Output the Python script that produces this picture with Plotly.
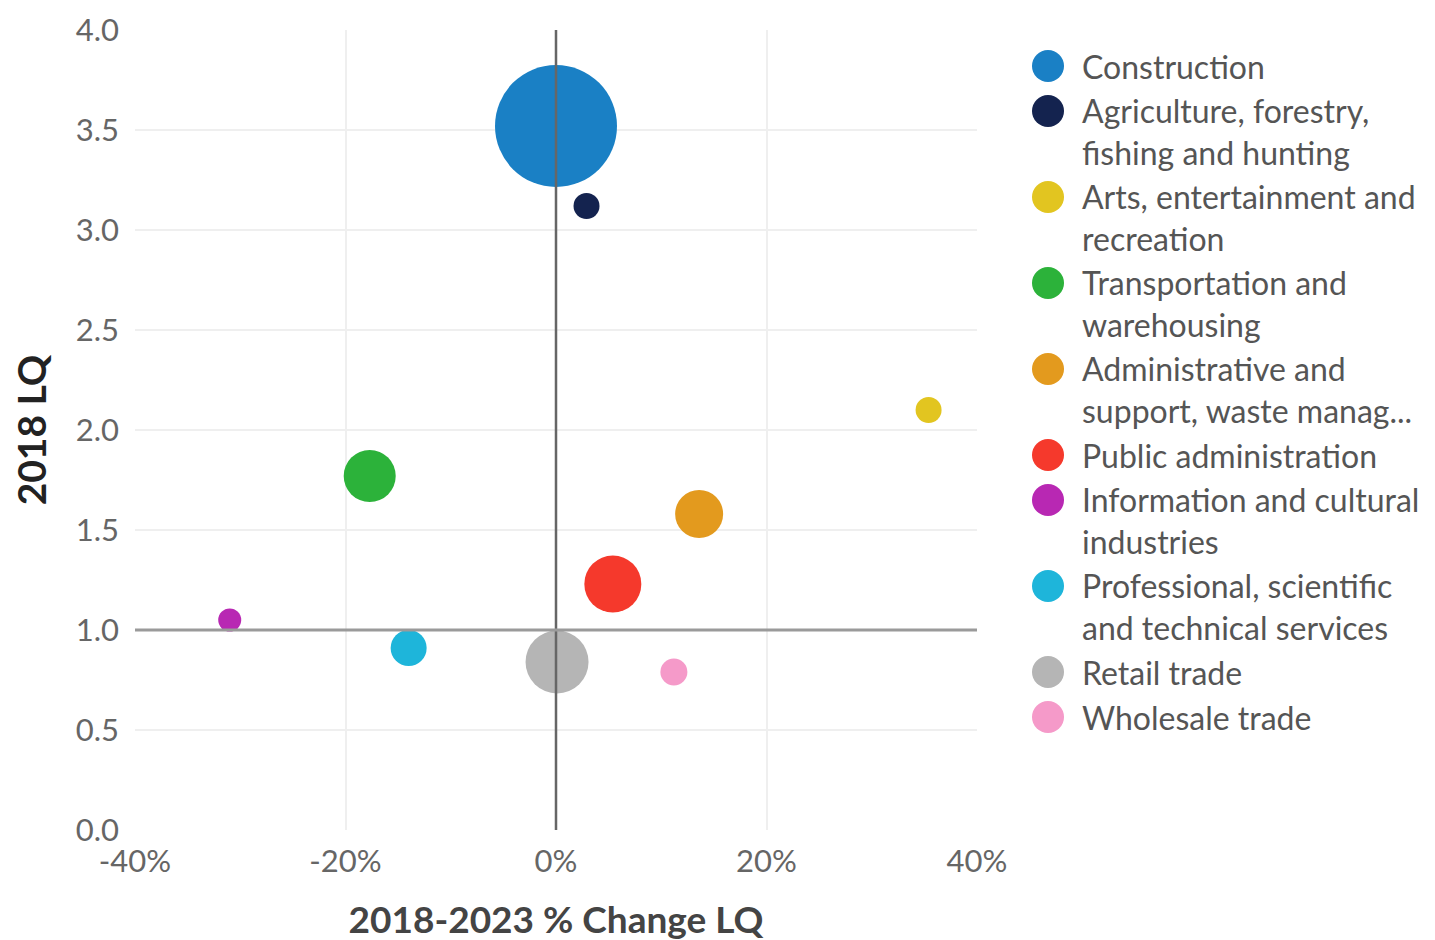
import plotly.graph_objects as go

industries = [
    "Construction",
    "Agriculture, forestry,<br>fishing and hunting",
    "Arts, entertainment and<br>recreation",
    "Transportation and<br>warehousing",
    "Administrative and<br>support, waste manag...",
    "Public administration",
    "Information and cultural<br>industries",
    "Professional, scientific<br>and technical services",
    "Retail trade",
    "Wholesale trade",
]
pct_change_lq = [0.0, 2.9, 35.4, -17.7, 13.6, 5.4, -31.0, -14.0, 0.1, 11.2]
lq_2018 = [3.52, 3.12, 2.10, 1.77, 1.58, 1.23, 1.05, 0.91, 0.84, 0.79]
bubble_size = [122, 26, 26, 52, 48, 57, 23, 36, 63, 27]
colors = ["#1a80c5", "#14234f", "#e2c520", "#2cb23a", "#e39a1e",
          "#f5392c", "#b828b3", "#1eb5da", "#b5b5b5", "#f59ac9"]

x_tickvals = [-40, -20, 0, 20, 40]
x_ticktext = ["-40%", "-20%", "0%", "20%", "40%"]
y_tickvals = [0, 0.5, 1.0, 1.5, 2.0, 2.5, 3.0, 3.5, 4.0]
y_ticktext = ["0.0", "0.5", "1.0", "1.5", "2.0", "2.5", "3.0", "3.5", "4.0"]

# ---- layout geometry (figure pixels) ----
W, H = 1435, 940
ML, MR, MT, MB = 127, 10, 22, 118
PLOT_RIGHT = 969
inner_w = W - ML - MR
main_frac = (PLOT_RIGHT - ML) / inner_w
plot_h = H - MT - MB
legend_w = W - MR - PLOT_RIGHT

fig = go.Figure()
for name, x, y, s, c in zip(industries, pct_change_lq, lq_2018, bubble_size, colors):
    fig.add_trace(go.Scatter(
        x=[x], y=[y], mode="markers", name=name.replace("<br>", " "),
        marker=dict(size=s, color=c, line=dict(width=0), opacity=1),
        showlegend=False,
    ))

# ---- custom legend (big round markers) on a helper axis in pixel units ----
LINE_H = 41
ITEM_GAP = 4
first_y = 36
leg_y = []
yy = first_y
for name in industries:
    leg_y.append(yy)
    yy += ITEM_GAP + LINE_H * (name.count("<br>") + 1)
leg_marker_x = 71
leg_text_x = 103

fig.add_trace(go.Scatter(
    x=[leg_marker_x] * len(industries), y=leg_y, mode="markers",
    marker=dict(size=32, color=colors, line=dict(width=0)),
    xaxis="x2", yaxis="y2", showlegend=False, hoverinfo="skip",
))
for name, y in zip(industries, leg_y):
    fig.add_annotation(
        x=leg_text_x, y=y, xref="x2", yref="y2", text=name,
        xanchor="left", yanchor="middle", align="left", showarrow=False,
        yshift=-(LINE_H * name.count("<br>")) / 2,
        font=dict(family="Lato", size=32, color="#555555"),
    )

# reference lines (drawn above the bubbles)
fig.add_shape(type="line", xref="x", yref="y", x0=0, x1=0,
              ysizemode="pixel", yanchor=0, y0=-9, y1=plot_h,
              line=dict(color="#666666", width=2.5), layer="above")
fig.add_shape(type="line", xref="x", yref="y", y0=1, y1=1,
              xsizemode="pixel", xanchor=-40, x0=-6, x1=PLOT_RIGHT - ML,
              line=dict(color="#9a9a9a", width=3), layer="above")

fig.update_layout(
    width=W, height=H,
    margin=dict(l=ML, r=MR, t=MT, b=MB),
    paper_bgcolor="white", plot_bgcolor="white",
    font=dict(family="Lato", color="#555555", size=31),
    showlegend=False,
    xaxis=dict(
        domain=[0, main_frac], automargin=False,
        range=[-40, 40], tickvals=x_tickvals, ticktext=x_ticktext,
        showgrid=True, gridcolor="#efefef", gridwidth=1.5,
        zeroline=False, showline=False, ticks="",
        ticklabelstandoff=10, ticklabeloverflow="allow",
        tickfont=dict(family="Lato", size=31, color="#666666"),
        title=dict(text="2018-2023 % Change LQ", standoff=29,
                   font=dict(family="Lato", size=37, color="#444444", weight="bold")),
    ),
    yaxis=dict(
        domain=[0, 1], automargin=False,
        range=[0, 4], tickvals=y_tickvals, ticktext=y_ticktext,
        showgrid=True, gridcolor="#efefef", gridwidth=1.5,
        zeroline=False, showline=False, ticks="",
        ticklabelstandoff=15, ticklabeloverflow="allow",
        tickfont=dict(family="Lato", size=31, color="#666666"),
        title=dict(text="2018 LQ", standoff=19,
                   font=dict(family="Lato", size=39, color="#222222", weight="bold")),
    ),
    xaxis2=dict(domain=[main_frac, 1], range=[0, legend_w], visible=False,
                fixedrange=True, anchor="y2"),
    yaxis2=dict(domain=[0, 1], range=[plot_h, 0], visible=False,
                fixedrange=True, anchor="x2"),
)

fig.write_html("out.html")
